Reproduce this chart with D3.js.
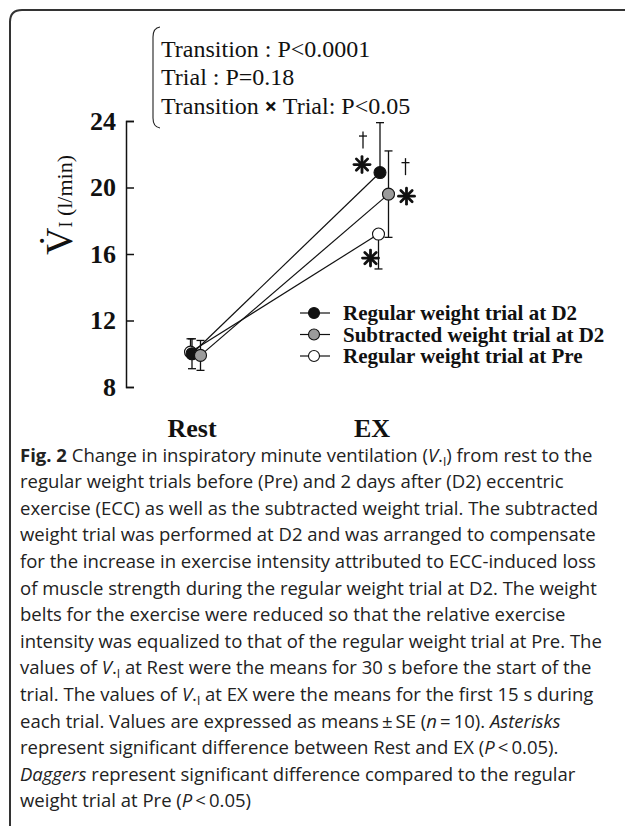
<!DOCTYPE html>
<html>
<head>
<meta charset="utf-8">
<script src="https://cdn.jsdelivr.net/npm/d3@7"></script>
<style>
  body { margin: 0; background: #fff; }
  svg { display: block; }
</style>
</head>
<body>
<script>
var width = 625
var height = 826

// data
var phases = ['Rest', 'EX']
var trials = ['Regular weight trial at D2', 'Subtracted weight trial at D2', 'Regular weight trial at Pre']
var restMean = [10.0, 9.9, 10.1]
var exMean = [20.9, 19.6, 17.2]
var restSE = [0.9, 0.9, 0.8]
var exSE = [3.0, 2.6, 2.1]
// which side of the error bar is drawn (the other side is hidden in the figure)
var restBar = ['both', 'both', 'up']
var exBar = ['up', 'both', 'down']
var fills = ['#111', '#9b9b9b', '#fff']
var jitter = [0, 8.5, -1.5]
var yTicks = [8, 12, 16, 20, 24]
var stats = ['Transition : P<0.0001', 'Trial : P=0.18', 'Transition|×|Trial: P<0.05']
var asterisk = [true, true, true]
var dagger = [true, true, false]

var caption = [
  '**Fig. 2** Change in inspiratory minute ventilation (_V_.~I~) from rest to the',
  'regular weight trials before (Pre) and 2 days after (D2) eccentric',
  'exercise (ECC) as well as the subtracted weight trial. The subtracted',
  'weight trial was performed at D2 and was arranged to compensate',
  'for the increase in exercise intensity attributed to ECC-induced loss',
  'of muscle strength during the regular weight trial at D2. The weight',
  'belts for the exercise were reduced so that the relative exercise',
  'intensity was equalized to that of the regular weight trial at Pre. The',
  'values of _V_.~I~ at Rest were the means for 30 s before the start of the',
  'trial. The values of _V_.~I~ at EX were the means for the first 15 s during',
  'each trial. Values are expressed as means\u2009±\u2009SE (_n_\u2009=\u200910). _Asterisks_',
  'represent significant difference between Rest and EX (_P_\u2009<\u20090.05).',
  '_Daggers_ represent significant difference compared to the regular',
  'weight trial at Pre (_P_\u2009<\u20090.05)'
]

var serif = '"Liberation Serif", "Times New Roman", serif'
var sans = '"Open Sans", "Noto Sans", sans-serif'

var svg = d3.select('body')
  .append('svg')
  .attr('width', width)
  .attr('height', height)

// frame with rounded top-left corner
svg.append('path')
  .attr('d', 'M10,826 L10,22 Q10,10 22,10 L625,10')
  .attr('fill', 'none')
  .attr('stroke', '#333')
  .attr('stroke-width', 2)

var x = d3.scalePoint().domain(phases).range([192, 380])
var xLab = d3.scalePoint().domain(phases).range([192, 372])
var y = d3.scaleLinear().domain([8, 24]).range([387, 121])

// y axis: ticks point inward, labels left
var yAxis = svg.append('g')
  .attr('transform', 'translate(126,0)')
  .call(d3.axisLeft(y).tickValues(yTicks).tickSizeInner(-8).tickSizeOuter(-8).tickPadding(10))
yAxis.selectAll('path, line').attr('stroke', '#111').attr('stroke-width', 1.5)
yAxis.selectAll('text')
  .attr('font-family', serif)
  .attr('font-weight', 'bold')
  .attr('font-size', 26)
  .attr('fill', '#111')

// y label
var yl = svg.append('text')
  .attr('transform', 'translate(72,205) rotate(-90)')
  .attr('text-anchor', 'middle')
  .attr('font-family', serif)
  .attr('fill', '#111')
yl.append('tspan').attr('font-size', 38).text('V\u0307')
yl.append('tspan').attr('font-size', 18).text('I')
yl.append('tspan').attr('font-size', 22).text(' (l/min)')

// category labels
svg.selectAll('.cat')
  .data(phases)
  .enter()
  .append('text')
  .attr('class', 'cat')
  .attr('x', function(d) { return xLab(d) })
  .attr('y', 437)
  .attr('text-anchor', 'middle')
  .attr('font-family', serif)
  .attr('font-weight', 'bold')
  .attr('font-size', 26)
  .attr('fill', '#111')
  .text(function(d) { return d })

// stats bracket and text
svg.append('path')
  .attr('d', 'M160,27 Q153,28 153,37 L153,118 Q153,127 160,128')
  .attr('fill', 'none')
  .attr('stroke', '#222')
  .attr('stroke-width', 1.1)

svg.selectAll('.stat')
  .data(stats)
  .enter()
  .append('text')
  .attr('class', 'stat')
  .attr('x', 161)
  .attr('y', function(d, i) { return 57 + i * 28.3 })
  .attr('font-family', serif)
  .attr('font-size', 24)
  .attr('fill', '#111')
  .each(function(d) {
    var parts = d.split('|')
    var t = d3.select(this)
    t.append('tspan').text(parts[0])
    if (parts.length > 1) {
      t.append('tspan').attr('font-family', sans).attr('font-weight', 'bold').attr('font-size', 22).text(' ' + parts[1] + ' ')
      t.append('tspan').text(parts[2])
    }
  })

// series
var series = trials.map(function(name, i) {
  return {
    name: name,
    fill: fills[i],
    dx: jitter[i],
    pts: [
      { phase: 'Rest', v: restMean[i], se: restSE[i], bar: restBar[i] },
      { phase: 'EX', v: exMean[i], se: exSE[i], bar: exBar[i] }
    ]
  }
})
var drawOrder = [2, 0, 1]

var line = d3.line()
svg.selectAll('.trend')
  .data(series)
  .enter()
  .append('path')
  .attr('class', 'trend')
  .attr('fill', 'none')
  .attr('stroke', '#111')
  .attr('stroke-width', 1.2)
  .attr('d', function(s) {
    return line(s.pts.map(function(p) { return [x(p.phase) + s.dx, y(p.v)] }))
  })

var errs = []
series.forEach(function(s) {
  s.pts.forEach(function(p) {
    var cx = x(p.phase) + s.dx
    var hi = p.bar === 'down' ? p.v : p.v + p.se
    var lo = p.bar === 'up' ? p.v : p.v - p.se
    errs.push({ cx: cx, hi: hi, lo: lo, bar: p.bar })
  })
})
var eg = svg.selectAll('.err').data(errs).enter().append('g').attr('class', 'err')
  .attr('stroke', '#111').attr('stroke-width', 1.3)
eg.append('line')
  .attr('x1', function(d) { return d.cx }).attr('x2', function(d) { return d.cx })
  .attr('y1', function(d) { return y(d.hi) }).attr('y2', function(d) { return y(d.lo) })
eg.filter(function(d) { return d.bar !== 'down' }).append('line')
  .attr('x1', function(d) { return d.cx - 4 }).attr('x2', function(d) { return d.cx + 4 })
  .attr('y1', function(d) { return y(d.hi) }).attr('y2', function(d) { return y(d.hi) })
eg.filter(function(d) { return d.bar !== 'up' }).append('line')
  .attr('x1', function(d) { return d.cx - 4 }).attr('x2', function(d) { return d.cx + 4 })
  .attr('y1', function(d) { return y(d.lo) }).attr('y2', function(d) { return y(d.lo) })

drawOrder.forEach(function(i) {
  var s = series[i]
  svg.selectAll('.pt' + i)
    .data(s.pts)
    .enter()
    .append('circle')
    .attr('cx', function(p) { return x(p.phase) + s.dx })
    .attr('cy', function(p) { return y(p.v) })
    .attr('r', 6)
    .attr('fill', s.fill)
    .attr('stroke', '#111')
    .attr('stroke-width', 1.1)
})

// significance marks next to EX points
var starOff = [[-18, -8], [18, 2], [-8, 24]]
var dagOff = [[-17, -33], [17, -28], null]
function drawStar(cx, cy) {
  var r = 8
  var g = svg.append('g').attr('stroke', '#111').attr('stroke-width', 2.8).attr('stroke-linecap', 'round')
  ;[0, 45, 90, 135].forEach(function(a) {
    var rad = a * Math.PI / 180
    g.append('line')
      .attr('x1', cx - r * Math.cos(rad)).attr('y1', cy - r * Math.sin(rad))
      .attr('x2', cx + r * Math.cos(rad)).attr('y2', cy + r * Math.sin(rad))
  })
}
function drawDagger(cx, cy) {
  // simple dagger: vertical stem with a short cross bar
  var g = svg.append('g').attr('stroke', '#111').attr('stroke-width', 1.3)
  g.append('line').attr('x1', cx).attr('x2', cx).attr('y1', cy - 8).attr('y2', cy + 9)
  g.append('line').attr('x1', cx - 4).attr('x2', cx + 4).attr('y1', cy - 3.5).attr('y2', cy - 3.5)
}
series.forEach(function(s, i) {
  var cx = x('EX') + s.dx
  var cy = y(exMean[i])
  if (asterisk[i]) drawStar(cx + starOff[i][0], cy + starOff[i][1])
  if (dagger[i]) drawDagger(cx + dagOff[i][0], cy + dagOff[i][1])
})

// legend
var legY = d3.scalePoint().domain(trials).range([313, 356])
var leg = svg.selectAll('.leg')
  .data(series)
  .enter()
  .append('g')
  .attr('class', 'leg')
  .attr('transform', function(s) { return 'translate(0,' + legY(s.name) + ')' })
leg.append('line')
  .attr('x1', 300).attr('x2', 330)
  .attr('stroke', '#111').attr('stroke-width', 1.2)
leg.append('circle')
  .attr('cx', 314).attr('r', 5.5)
  .attr('fill', function(s) { return s.fill })
  .attr('stroke', '#111').attr('stroke-width', 1.1)
leg.append('text')
  .attr('x', 343).attr('y', 7)
  .attr('font-family', serif)
  .attr('font-weight', 'bold')
  .attr('font-size', 21)
  .attr('fill', '#111')
  .text(function(s) { return s.name })

// caption
function rich(sel, str) {
  var re = /\*\*(.+?)\*\*|_(.+?)_|~(.+?)~|([^*_~]+)/g
  var m, back = 0
  while ((m = re.exec(str)) !== null) {
    var t
    if (m[1]) t = sel.append('tspan').attr('font-weight', 'bold').text(m[1])
    else if (m[2]) t = sel.append('tspan').attr('font-style', 'italic').text(m[2])
    else if (m[3]) {
      sel.append('tspan').attr('font-size', 12).attr('dy', 4).text(m[3])
      back = -4
      continue
    }
    else t = sel.append('tspan').text(m[4])
    if (back) { t.attr('dy', back); back = 0 }
  }
}
svg.selectAll('.cap')
  .data(caption)
  .enter()
  .append('text')
  .attr('class', 'cap')
  .attr('x', 20)
  .attr('y', function(d, i) { return 461.5 + i * 26.6 })
  .attr('font-family', sans)
  .attr('font-size', 18.5)
  .attr('fill', '#222')
  .each(function(d) { rich(d3.select(this), d) })
</script>
</body>
</html>
